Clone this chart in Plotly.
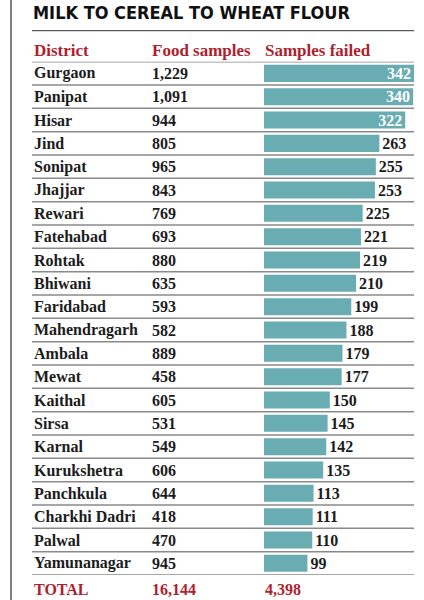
import plotly.graph_objects as go

districts = ["Gurgaon", "Panipat", "Hisar", "Jind", "Sonipat", "Jhajjar", "Rewari",
             "Fatehabad", "Rohtak", "Bhiwani", "Faridabad", "Mahendragarh", "Ambala",
             "Mewat", "Kaithal", "Sirsa", "Karnal", "Kurukshetra", "Panchkula",
             "Charkhi Dadri", "Palwal", "Yamunanagar"]
food_samples = ["1,229", "1,091", "944", "805", "965", "843", "769", "693", "880", "635",
                "593", "582", "889", "458", "605", "531", "549", "606", "644", "418",
                "470", "945"]
samples_failed = [342, 340, 322, 263, 255, 253, 225, 221, 219, 210, 199, 188, 179, 177,
                  150, 145, 142, 135, 113, 111, 110, 99]
title = "MILK TO CEREAL TO WHEAT FLOUR"
headers = ["District", "Food samples", "Samples failed"]
totals = ["TOTAL", "16,144", "4,398"]

W, H = 424, 600
RED = "#b01e2e"
TEAL = "#69adb2"
INK = "#1c1c1c"
SERIF = "Liberation Serif, DejaVu Serif, serif"
COND = "Liberation Sans Narrow, DejaVu Sans Condensed, Arial Narrow, sans-serif"

def px_x(p):
    return p / W

def px_y(p):
    return 1 - p / H

top_px, bot_px = 61.7, 575.0
n = len(districts)

positions = ["inside" if v >= 300 else "outside" for v in samples_failed]

fig = go.Figure(go.Bar(
    x=samples_failed, y=districts, orientation="h",
    marker=dict(color=TEAL, line=dict(width=0)),
    width=0.73,
    text=[str(v) for v in samples_failed],
    textposition=positions,
    insidetextanchor="end",
    constraintext="none",
    cliponaxis=False,
    insidetextfont=dict(family=SERIF, size=16, color="white", weight="bold"),
    outsidetextfont=dict(family=SERIF, size=16, color=INK, weight="bold"),
    hoverinfo="skip",
))

fig.update_layout(
    width=W, height=H, margin=dict(l=0, r=0, t=0, b=0),
    paper_bgcolor="white", plot_bgcolor="white", showlegend=False,
    xaxis=dict(domain=[px_x(264), px_x(414)], range=[0, 342], visible=False, fixedrange=True),
    yaxis=dict(domain=[px_y(bot_px), px_y(top_px)], range=[n - 0.5, -0.5],
               type="category", categoryorder="array", categoryarray=districts,
               visible=False, fixedrange=True),
    bargap=0.27,
)

ann = []
# title
ann.append(dict(text=f"<b>{title}</b>", x=px_x(31), y=px_y(12), xref="paper", yref="paper",
                xanchor="left", yanchor="middle", showarrow=False,
                font=dict(family=COND, size=18, color="#111")))
# headers
for h, xp in zip(headers, [32, 150, 263]):
    ann.append(dict(text=f"<b>{h}</b>", x=px_x(xp), y=px_y(51), xref="paper", yref="paper",
                    xanchor="left", yanchor="middle", showarrow=False,
                    font=dict(family=SERIF, size=17, color=RED)))
# rows
for d, f in zip(districts, food_samples):
    ann.append(dict(text=f"<b>{d}</b>", x=px_x(32), y=d, xref="paper", yref="y",
                    xanchor="left", yanchor="middle", showarrow=False,
                    font=dict(family=SERIF, size=16, color=INK)))
    ann.append(dict(text=f"<b>{f}</b>", x=px_x(150), y=d, xref="paper", yref="y",
                    xanchor="left", yanchor="middle", showarrow=False,
                    font=dict(family=SERIF, size=16, color=INK)))
# totals
for t, xp in zip(totals, [32, 150, 263]):
    ann.append(dict(text=f"<b>{t}</b>", x=px_x(xp), y=px_y(589), xref="paper", yref="paper",
                    xanchor="left", yanchor="middle", showarrow=False,
                    font=dict(family=SERIF, size=16, color=RED)))
fig.update_layout(annotations=ann)

shapes = []
# left border
shapes.append(dict(type="line", xref="paper", yref="paper", x0=px_x(11), x1=px_x(11),
                   y0=0, y1=1, line=dict(color="#555", width=1.5)))
# title rule
shapes.append(dict(type="line", xref="paper", yref="paper", x0=px_x(32), x1=px_x(414),
                   y0=px_y(30.7), y1=px_y(30.7), line=dict(color="#333", width=1)))
# row separators
for i in range(n + 1):
    shapes.append(dict(type="line", xref="paper", yref="y", x0=px_x(32), x1=px_x(414),
                       y0=i - 0.5, y1=i - 0.5, line=dict(color="#8a8a8a", width=1.5),
                       layer="below"))
fig.update_layout(shapes=shapes)

fig.write_html("out.html")
